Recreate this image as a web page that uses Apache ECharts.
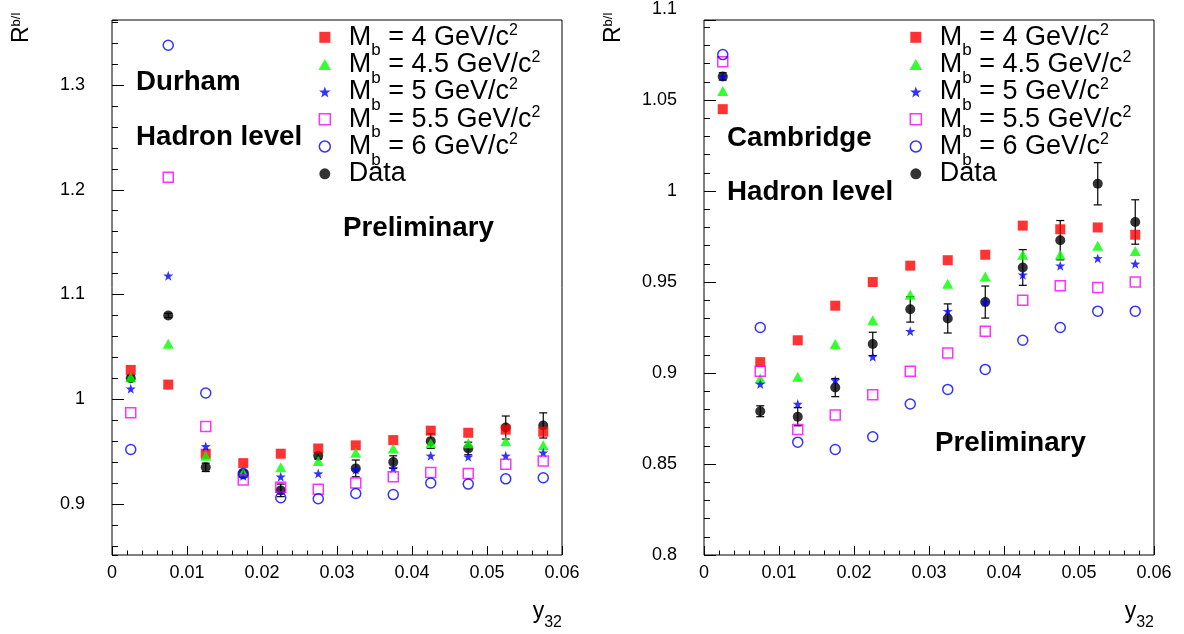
<!DOCTYPE html>
<html><head><meta charset="utf-8">
<script src="https://cdn.jsdelivr.net/npm/echarts@6/dist/echarts.min.js"></script>
<style>html,body{margin:0;padding:0;background:#fff}#c{width:1184px;height:634px}</style>
</head><body><div id="c"></div>
<script>
// ---------------- data ----------------
const y32 = [0.0025,0.0075,0.0125,0.0175,0.0225,0.0275,0.0325,0.0375,0.0425,0.0475,0.0525,0.0575];
const legendNames = ['Mb4','Mb45','Mb5','Mb55','Mb6','Data'];
const massLabels = {Mb4:'4', Mb45:'4.5', Mb5:'5', Mb55:'5.5', Mb6:'6'};

// Durham (left)
const durM4   = [1.028, 1.014, 0.948, 0.939, 0.948, 0.953, 0.956, 0.961, 0.970, 0.968, 0.971, 0.969];
const durM45  = [1.021, 1.053, 0.946, 0.930, 0.935, 0.941, 0.949, 0.953, 0.958, 0.958, 0.960, 0.956];
const durM5   = [1.010, 1.118, 0.955, 0.927, 0.926, 0.929, 0.933, 0.934, 0.946, 0.945, 0.946, 0.949];
const durM55  = [0.987, 1.212, 0.974, 0.923, 0.916, 0.914, 0.920, 0.926, 0.930, 0.929, 0.938, 0.941];
const durM6   = [0.952, 1.338, 1.006, 0.929, 0.906, 0.905, 0.910, 0.909, 0.920, 0.919, 0.924, 0.925];
const durData = [1.020, 1.080, 0.935, 0.929, 0.913, 0.946, 0.934, 0.940, 0.960, 0.953, 0.973, 0.975];
const durErr  = [0.003, 0.002, 0.004, 0.003, 0.006, 0.003, 0.008, 0.006, 0.007, 0.006, 0.011, 0.012];

// Cambridge (right)
const camM4   = [1.045, 0.906, 0.918, 0.937, 0.950, 0.959, 0.962, 0.965, 0.981, 0.979, 0.980, 0.976];
const camM45  = [1.055, 0.897, 0.898, 0.916, 0.929, 0.943, 0.949, 0.953, 0.965, 0.965, 0.970, 0.967];
const camM5   = [1.063, 0.894, 0.883, 0.896, 0.909, 0.923, 0.934, 0.939, 0.954, 0.959, 0.963, 0.960];
const camM55  = [1.071, 0.901, 0.869, 0.877, 0.888, 0.901, 0.911, 0.923, 0.940, 0.948, 0.947, 0.950];
const camM6   = [1.075, 0.925, 0.862, 0.858, 0.865, 0.883, 0.891, 0.902, 0.918, 0.925, 0.934, 0.934];
const camData = [1.063, 0.879, 0.876, 0.892, 0.916, 0.935, 0.930, 0.939, 0.958, 0.973, 1.004, 0.983];
const camErr  = [0.002, 0.003, 0.005, 0.005, 0.0064, 0.007, 0.008, 0.0088, 0.0098, 0.0108, 0.0116, 0.0122];

// tick labels
const xTickLabels = ['0','0.01','0.02','0.03','0.04','0.05','0.06'];
const leftYTickLabels = ['0.9','1','1.1','1.2','1.3'];
const rightYTickLabels = ['0.8','0.85','0.9','0.95','1','1.05','1.1'];

// ---------------- styles ----------------
const FONT = 'Liberation Sans, Arial, Helvetica, sans-serif';
const SQUARE = 'path://M0,0H10V10H0Z';
const TRI = 'path://M5,0L10,8.7L0,8.7Z';
const STAR = 'path://M0,-10L2.35,-3.24L9.51,-3.09L3.8,1.24L5.88,8.09L0,4L-5.88,8.09L-3.8,1.24L-9.51,-3.09L-2.35,-3.24Z';
const styles = {
  Mb4:  {symbol: SQUARE, size: 10, itemStyle: {color: '#ff0000'}},
  Mb45: {symbol: TRI, size: [11, 10], itemStyle: {color: '#00ff00'}},
  Mb5:  {symbol: STAR, size: 10, itemStyle: {color: '#0000ff'}},
  Mb55: {symbol: SQUARE, size: 10, itemStyle: {color: 'rgba(0,0,0,0)', borderColor: '#ff00ff', borderWidth: 1.5}},
  Mb6:  {symbol: 'circle', size: 10, itemStyle: {color: 'rgba(0,0,0,0)', borderColor: '#0000ff', borderWidth: 1.5}},
  Data: {symbol: 'circle', size: 10, itemStyle: {color: '#000000'}}
};

function labelFor(list) {
  return function (v) {
    for (const s of list) { if (Math.abs(Number(s) - v) < 1e-6) return s; }
    return '';
  };
}

function scatter(name, vals, axisIdx) {
  const st = styles[name];
  return {
    type: 'scatter', name: name, xAxisIndex: axisIdx, yAxisIndex: axisIdx,
    data: y32.map((x, i) => [x, vals[i]]),
    symbol: st.symbol, symbolSize: st.size, itemStyle: st.itemStyle,
    silent: true, animation: false
  };
}
function errBars(vals, errs, axisIdx) {
  return {
    type: 'custom', xAxisIndex: axisIdx, yAxisIndex: axisIdx, silent: true, animation: false,
    data: y32.map((x, i) => [x, vals[i], errs[i]]),
    encode: {x: 0, y: 1},
    renderItem: function (params, api) {
      const x = api.value(0), y = api.value(1), e = api.value(2);
      const hi = api.coord([x, y + e]), lo = api.coord([x, y - e]);
      const cw = 4, ls = {stroke: '#000', lineWidth: 1.2};
      return {type: 'group', children: [
        {type: 'line', shape: {x1: hi[0], y1: hi[1], x2: lo[0], y2: lo[1]}, style: ls},
        {type: 'line', shape: {x1: hi[0] - cw, y1: hi[1], x2: hi[0] + cw, y2: hi[1]}, style: ls},
        {type: 'line', shape: {x1: lo[0] - cw, y1: lo[1], x2: lo[0] + cw, y2: lo[1]}, style: ls}
      ]};
    }
  };
}

const richLegend = {
  m:   {fontSize: 27, lineHeight: 44, fontFamily: FONT, color: '#000'},
  sub: {fontSize: 17, lineHeight: 17, verticalAlign: 'bottom', fontFamily: FONT, color: '#000'},
  sup: {fontSize: 16, lineHeight: 30, verticalAlign: 'top', padding: [7, 0, 0, 0], fontFamily: FONT, color: '#000'}
};
function legendFmt(name) {
  if (name === 'Data') return '{m|Data}';
  return '{m|M}{sub|b}{m| = ' + massLabels[name] + ' GeV/c}{sup|2}';
}
function legend(left) {
  return {
    orient: 'vertical', left: left, top: 15.3, padding: 0, itemGap: -16.7,
    itemWidth: 38, itemHeight: 11, selectedMode: false,
    data: legendNames.map(n => (n === 'Mb55' || n === 'Mb6') ? {name: n, itemStyle: {borderWidth: 1.5}} : {name: n}),
    formatter: legendFmt,
    textStyle: {fontSize: 27, lineHeight: 44, fontFamily: FONT, color: '#000', rich: richLegend}
  };
}

const tickLabelStyle = {fontSize: 18, fontFamily: FONT, color: '#000'};
function xAxis(gridIdx, show) {
  return {
    type: 'value', gridIndex: gridIdx, position: 'bottom', min: 0, max: 0.06, interval: 0.01, show: show,
    axisLine: {show: false},
    axisTick: {show: true, inside: true, length: 9, lineStyle: {color: '#000', width: 1}},
    minorTick: {show: true, splitNumber: 5, length: 4.5, lineStyle: {color: '#000', width: 1}},
    splitLine: {show: false},
    axisLabel: Object.assign({margin: 9, formatter: labelFor(xTickLabels), showMinLabel: true, showMaxLabel: true}, tickLabelStyle)
  };
}

const leftMin = 0.8513, leftMax = 1.3621;
const rightMin = 0.8, rightMaxFrame = 1.0940, rightMaxTicks = 1.1;

const boldText = (x, y, t) => ({type: 'text', x: x, y: y, style: {text: t, fontSize: 27.7, fontWeight: 'bold', fontFamily: FONT, fill: '#000', align: 'left', verticalAlign: 'middle'}});
const yTitle = (x) => ({type: 'text', x: x, y: 43, rotation: Math.PI / 2, style: {text: '{r|R}{s|b/l}', align: 'left', verticalAlign: 'middle',
  rich: {r: {fontSize: 23, lineHeight: 24, fontFamily: FONT, color: '#000'}, s: {fontSize: 13, lineHeight: 20, verticalAlign: 'top', fontFamily: FONT, color: '#000'}}}});
const xTitle = (x) => ({type: 'text', x: x, y: 612, style: {text: '{y|y}{s|32}', align: 'right', verticalAlign: 'middle',
  rich: {y: {fontSize: 23, lineHeight: 37, fontFamily: FONT, color: '#000'}, s: {fontSize: 16, lineHeight: 16, verticalAlign: 'bottom', fontFamily: FONT, color: '#000'}}}});

const option = {
  backgroundColor: '#ffffff',
  animation: false,
  grid: [
    {left: 112, right: 622, top: 20, bottom: 79, show: true, borderColor: '#000', borderWidth: 1, backgroundColor: 'rgba(0,0,0,0)', outerBoundsMode: 'none'},
    {left: 704, right: 30, top: 20, bottom: 79, show: true, borderColor: '#000', borderWidth: 1, backgroundColor: 'rgba(0,0,0,0)', outerBoundsMode: 'none'},
    {left: 704, right: 30, top: 9, bottom: 79, show: false, outerBoundsMode: 'none'}
  ],
  xAxis: [xAxis(0, true), xAxis(1, true), xAxis(2, false)],
  yAxis: [
    // left: labels + major ticks
    {type: 'value', gridIndex: 0, position: 'left', min: leftMin, max: leftMax, splitNumber: 5,
     axisLine: {show: false},
     axisTick: {show: true, inside: true, length: 12, lineStyle: {color: '#000'}},
     splitLine: {show: false},
     axisLabel: Object.assign({margin: 27, formatter: labelFor(leftYTickLabels), showMinLabel: false, showMaxLabel: false}, tickLabelStyle)},
    // right frame axis: major ticks
    {type: 'value', gridIndex: 1, position: 'left', min: rightMin, max: rightMaxFrame, interval: 0.05,
     axisLine: {show: false},
     axisTick: {show: true, inside: true, length: 12, lineStyle: {color: '#000'}},
     splitLine: {show: false}, axisLabel: {show: false}},
    // right: labels + minor ticks (same scale, reaching 1.1)
    {type: 'value', gridIndex: 2, position: 'left', min: rightMin, max: rightMaxTicks, interval: 0.05,
     axisLine: {show: false},
     axisTick: {show: false, inside: true},
     minorTick: {show: true, splitNumber: 5, length: 6, lineStyle: {color: '#000'}},
     splitLine: {show: false},
     axisLabel: Object.assign({margin: 27, formatter: labelFor(rightYTickLabels), showMinLabel: true, showMaxLabel: true}, tickLabelStyle)},
    // left minor ticks (0.02 steps)
    {type: 'value', gridIndex: 0, position: 'left', min: leftMin, max: leftMax, splitNumber: 25,
     axisLine: {show: false},
     axisTick: {show: true, inside: true, length: 6, lineStyle: {color: '#000'}},
     splitLine: {show: false}, axisLabel: {show: false}}
  ],
  legend: [legend(318.5), legend(909.5)],
  series: [
    errBars(durData, durErr, 0),
    scatter('Data', durData, 0),
    scatter('Mb4', durM4, 0),
    scatter('Mb45', durM45, 0),
    scatter('Mb5', durM5, 0),
    scatter('Mb55', durM55, 0),
    scatter('Mb6', durM6, 0),
    errBars(camData, camErr, 1),
    scatter('Data', camData, 1),
    scatter('Mb4', camM4, 1),
    scatter('Mb45', camM45, 1),
    scatter('Mb5', camM5, 1),
    scatter('Mb55', camM55, 1),
    scatter('Mb6', camM6, 1)
  ],
  graphic: [
    boldText(136, 82.5, 'Durham'),
    boldText(136, 137, 'Hadron level'),
    boldText(343, 228, 'Preliminary'),
    boldText(727, 138, 'Cambridge'),
    boldText(727, 192, 'Hadron level'),
    boldText(935, 443, 'Preliminary'),
    yTitle(22), yTitle(614),
    xTitle(562), xTitle(1154)
  ]
};

const chart = echarts.init(document.getElementById('c'), null, {renderer: 'canvas'});
chart.setOption(option);
</script>
</body></html>
